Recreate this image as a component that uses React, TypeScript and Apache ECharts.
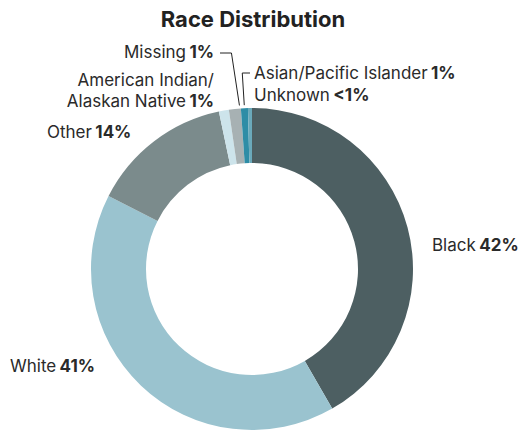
import React, { useEffect, useRef } from "react";
import * as echarts from "echarts";

const categories = [
  "Black",
  "White",
  "Other",
  "American Indian/Alaskan Native",
  "Missing",
  "Asian/Pacific Islander",
  "Unknown",
];
const values = [41.7, 40.8, 14.2, 1.0, 1.2, 0.7, 0.4];
const percentLabels = ["42%", "41%", "14%", "1%", "1%", "1%", "<1%"];
const colors = ["#4d5f62", "#9ac3cf", "#7b8b8c", "#cde4eb", "#a7b1b3", "#2e8da6", "#6aa9ba"];

// label placement (layout only)
const labelPos: { x: number; y: number; align: "left" | "right" }[] = [
  { x: 432, y: 245, align: "left" },
  { x: 10, y: 366, align: "left" },
  { x: 47, y: 132, align: "left" },
  { x: 214, y: 90, align: "right" },
  { x: 214, y: 52, align: "right" },
  { x: 254, y: 73, align: "left" },
  { x: 254, y: 95, align: "left" },
];

const FONT = "Inter";
const CX = 252;
const CY = 269;
const R_IN = 106;
const R_OUT = 161;

function slicePoint(idx: number, t: number, r: number) {
  const total = values.reduce((a, b) => a + b, 0);
  let cum = 0;
  for (let i = 0; i < idx; i++) cum += values[i];
  const frac = (cum + values[idx] * t) / total;
  const ang = frac * Math.PI * 2;
  return [CX + r * Math.sin(ang), CY - r * Math.cos(ang)];
}

export default function App() {
  const ref = useRef<HTMLDivElement>(null);
  useEffect(() => {
    document.body.style.margin = "0";
    if (!ref.current) return;
    const chart = echarts.init(ref.current, undefined, { renderer: "svg" });

    const missEnd = slicePoint(4, 0.9, R_OUT + 3);
    const asianEnd = slicePoint(5, 0.5, R_OUT + 3);
    const lineStyle = { stroke: "#222", lineWidth: 1, fill: null as any };

    chart.setOption({
      animation: false,
      backgroundColor: "#ffffff",
      series: [
        {
          type: "pie",
          center: [CX, CY],
          radius: [R_IN, R_OUT],
          startAngle: 90,
          clockwise: true,
          avoidLabelOverlap: false,
          itemStyle: { borderWidth: 0 },
          emphasis: { disabled: true },
          data: categories.map((name, i) => ({
            name,
            value: values[i],
            itemStyle: { color: colors[i] },
            label: {
              formatter:
                i === 3
                  ? "{n|American Indian/}\n{n|Alaskan Native} {b|" + percentLabels[i] + "}"
                  : "{n|" + name + "} {b|" + percentLabels[i] + "}",
            },
          })),
          label: {
            show: true,
            position: "outside",
            fontFamily: FONT,
            rich: {
              n: { fontFamily: FONT, fontSize: 17, color: "#2a2a2a", lineHeight: 21 },
              b: { fontFamily: FONT, fontSize: 17, fontWeight: "bold", color: "#2a2a2a", lineHeight: 21 },
            },
          },
          labelLine: { show: false },
          labelLayout: (params: any) => {
            const p = labelPos[params.dataIndex];
            return { x: p.x, y: p.y, align: p.align, verticalAlign: "middle", hideOverlap: false };
          },
        },
      ],
      graphic: [
        {
          type: "text",
          x: 253,
          y: 19,
          style: {
            text: "Race Distribution",
            fontFamily: FONT,
            fontSize: 22,
            fontWeight: "bold",
            fill: "#222222",
            textAlign: "center",
            textVerticalAlign: "middle",
          },
        },
        {
          type: "polyline",
          shape: {
            points: [
              [labelPos[4].x + 6, labelPos[4].y + 1],
              [missEnd[0] - 8, labelPos[4].y + 1],
              [missEnd[0], missEnd[1]],
            ],
          },
          style: lineStyle,
        },
        {
          type: "polyline",
          shape: {
            points: [
              [labelPos[5].x - 4, labelPos[5].y],
              [asianEnd[0] - 2, labelPos[5].y],
              [asianEnd[0], asianEnd[1]],
            ],
          },
          style: lineStyle,
        },
      ],
    });
    return () => chart.dispose();
  }, []);
  return <div ref={ref} style={{ width: 526, height: 434 }} />;
}
